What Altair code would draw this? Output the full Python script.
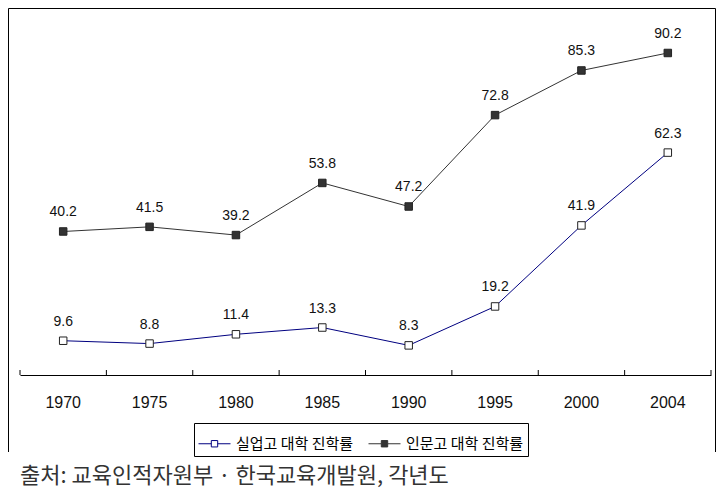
import altair as alt
import pandas as pd

years = ["1970", "1975", "1980", "1985", "1990", "1995", "2000", "2004"]
vocational = [9.6, 8.8, 11.4, 13.3, 8.3, 19.2, 41.9, 62.3]
general = [40.2, 41.5, 39.2, 53.8, 47.2, 72.8, 85.3, 90.2]
series_names = ["실업고 대학 진학률", "인문고 대학 진학률"]
source_text = "출처: 교육인적자원부 · 한국교육개발원, 각년도"

rows = []
for name, vals in zip(series_names, [vocational, general]):
    for yr, v in zip(years, vals):
        rows.append({"year": yr, "series": name, "value": v, "label": f"{v:.1f}"})
df = pd.DataFrame(rows)
year_df = pd.DataFrame({"year": years})
one = pd.DataFrame({"a": [0]})

W, H = 691, 357
KFONT = "Noto Sans CJK KR"
NFONT = "Liberation Sans"
legend_path = "M-1,0L-0.2,0M0.2,0L1,0M-0.2,-0.2L0.2,-0.2L0.2,0.2L-0.2,0.2Z"

xscale = alt.Scale(type="band", paddingInner=0, paddingOuter=0)
x_axis = alt.Axis(ticks=False, domain=True, domainColor="black", domainWidth=1,
                  bandPosition=0.5, labelAngle=0, labelAlign="center",
                  labelFont=NFONT, labelFontSize=16, labelColor="#111111",
                  labelPadding=19, grid=False)
x_enc = alt.X("year:N", sort=years, scale=xscale, title=None, axis=x_axis)
y_enc = alt.Y("value:Q", scale=alt.Scale(domain=[0, 100]), axis=None)

leg = dict(title=None, orient="none", legendX=174, legendY=405, direction="horizontal",
           strokeColor="black", padding=4, symbolType=legend_path, symbolSize=1024,
           symbolStrokeWidth=1, symbolOpacity=1, labelFont=KFONT, labelFontSize=15,
           labelColor="black", labelOffset=5, columnPadding=12, fillColor="white")

frame_left = alt.Chart(one).mark_rule(color="black", strokeWidth=1).encode(
    x=alt.value(-11.5), y=alt.value(-9.5), y2=alt.value(434))
frame_top = alt.Chart(one).mark_rule(color="black", strokeWidth=1).encode(
    x=alt.value(-11.5), x2=alt.value(695.5), y=alt.value(-9.5))
frame_right = alt.Chart(one).mark_rule(color="black", strokeWidth=1).encode(
    x=alt.value(695.5), y=alt.value(-9.5), y2=alt.value(434))

ticks = alt.Chart(year_df).mark_rule(color="black", strokeWidth=1).encode(
    x=alt.X("year:N", sort=years, scale=xscale, bandPosition=0, title=None, axis=x_axis),
    y=alt.value(H), y2=alt.value(H - 5))
end_tick = alt.Chart(one).mark_rule(color="black", strokeWidth=1).encode(
    x=alt.value(W), y=alt.value(H), y2=alt.value(H - 5))

lines = alt.Chart(df).mark_line(strokeWidth=1).encode(
    x=x_enc, y=y_enc,
    color=alt.Color("series:N", scale=alt.Scale(domain=series_names, range=["#000080", "#333333"]),
                    legend=alt.Legend(**leg)),
    detail="series:N",
)
points = alt.Chart(df).mark_square(size=56, opacity=1, stroke="#222222", strokeWidth=1).encode(
    x=x_enc, y=y_enc,
    fill=alt.Fill("series:N", scale=alt.Scale(domain=series_names, range=["white", "#333333"]),
                  legend=alt.Legend(**leg)),
)
labels = alt.Chart(df).mark_text(dy=-19, font=NFONT, fontSize=14, color="#111111", baseline="middle").encode(
    x=x_enc, y=y_enc, text="label:N")

source = alt.Chart(one).mark_text(align="left", baseline="middle", font=KFONT, fontSize=22,
                                  color="#333333").encode(
    x=alt.value(0), y=alt.value(458), text=alt.value(source_text))

chart = alt.layer(lines, points, labels, ticks, end_tick, frame_left, frame_top, frame_right, source).properties(
    width=W, height=H,
    padding={"left": 12, "top": 10, "right": 6, "bottom": 115},
    autosize="none",
).configure_view(stroke=None)

chart.save("out.html", embed_options={"renderer": "svg", "actions": False})
